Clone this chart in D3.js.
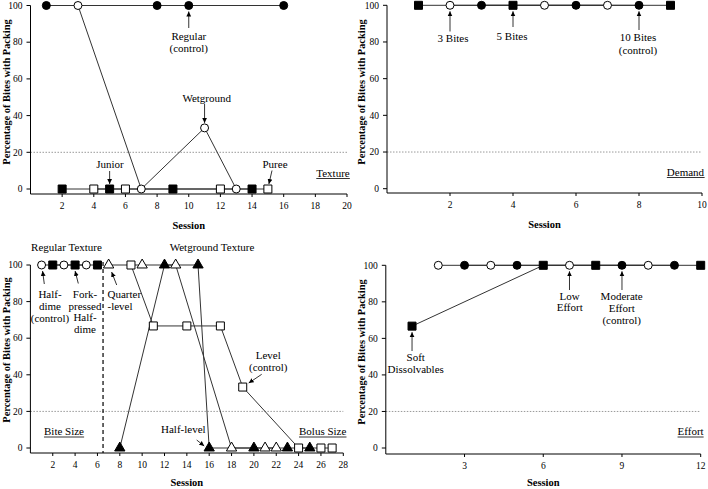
<!DOCTYPE html>
<html><head><meta charset="utf-8">
<script src="https://cdn.jsdelivr.net/npm/d3@7"></script>
<style>
body{margin:0;background:#fff}
text{font-family:"Liberation Serif","Times New Roman",serif;fill:#000}
</style>
</head><body>
<svg id="c" width="708" height="489"></svg>
<script>
// ---------- DATA ----------
// Panel A: Texture
const texRegularSessions = [1, 8, 10, 16];
const texRegularValues   = [100, 100, 100, 100];
const texWetSessions     = [3, 7, 11, 13];
const texWetValues       = [100, 0, 33.3, 0];
const texJuniorSessions  = [2, 5, 9, 14];
const texJuniorValues    = [0, 0, 0, 0];
const texPureeSessions   = [4, 6, 12, 15];
const texPureeValues     = [0, 0, 0, 0];
const texXTicks = [2, 4, 6, 8, 10, 12, 14, 16, 18, 20];

// Panel B: Demand
const dem5Sessions  = [1, 4, 9];
const dem5Values    = [100, 100, 100];
const dem3Sessions  = [2, 5, 7];
const dem3Values    = [100, 100, 100];
const dem10Sessions = [3, 6, 8];
const dem10Values   = [100, 100, 100];
const demXTicks = [2, 4, 6, 8, 10];

// Panel C: Bite size / Bolus size
const bsHalfDimeSessions = [1, 3, 5];
const bsHalfDimeValues   = [100, 100, 100];
const bsForkSessions     = [2, 4, 6];
const bsForkValues       = [100, 100, 100];
const bsQuarterSessions  = [7, 10, 13, 18, 21, 22];
const bsQuarterValues    = [100, 100, 100, 0, 0, 0];
const bsHalfLevelSessions = [8, 12, 15, 16, 20, 23, 25];
const bsHalfLevelValues   = [0, 100, 100, 0, 0, 0, 0];
const bsLevelSessions    = [9, 11, 14, 17, 19, 24, 26, 27];
const bsLevelValues      = [100, 66.7, 66.7, 66.7, 33.3, 0, 0, 0];
const bsXTicks = [2, 4, 6, 8, 10, 12, 14, 16, 18, 20, 22, 24, 26, 28];
const bsPhaseChange = 6.5;

// Panel D: Effort
const effSoftSessions = [1, 6, 8, 12];
const effSoftValues   = [66.7, 100, 100, 100];
const effLowSessions  = [2, 4, 7, 10];
const effLowValues    = [100, 100, 100, 100];
const effModSessions  = [3, 5, 9, 11];
const effModValues    = [100, 100, 100, 100];
const effXTicks = [3, 6, 9, 12];

const yTicks = [0, 20, 40, 60, 80, 100];
const criterion = 20;

// ---------- DRAW ----------
const svg = d3.select("#c");
svg.append("defs").append("marker")
  .attr("id", "ah").attr("markerUnits", "userSpaceOnUse")
  .attr("markerWidth", 6).attr("markerHeight", 6)
  .attr("refX", 5).attr("refY", 3).attr("orient", "auto")
  .append("path").attr("d", "M0,0.6 L5,3 L0,5.4 Z").attr("fill", "#000");

const sym = {
  circle: d3.symbol().type(d3.symbolCircle).size(50)(),
  square: d3.symbol().type(d3.symbolSquare).size(64)(),
  triangle: d3.symbol().type(d3.symbolTriangle).size(46)()
};

function panel(cfg) {
  const x = d3.scaleLinear().domain(cfg.xDomain).range(cfg.xRange);
  const y = d3.scaleLinear().domain([0, 100]).range(cfg.yRange);
  const g = svg.append("g");
  const x0 = cfg.xRange[0], x1 = cfg.xRange[1];

  // criterion dotted line
  g.append("line").attr("x1", x0).attr("x2", x1)
    .attr("y1", y(criterion)).attr("y2", y(criterion))
    .attr("stroke", "#999").attr("stroke-width", 1).attr("stroke-dasharray", "1.5,1.5");

  // y axis
  g.append("line").attr("x1", x0).attr("x2", x0).attr("y1", y(100)).attr("y2", cfg.axisY)
    .attr("stroke", "#000");
  yTicks.forEach(t => {
    g.append("line").attr("x1", x0 - 4).attr("x2", x0).attr("y1", y(t)).attr("y2", y(t)).attr("stroke", "#000");
    g.append("text").attr("x", x0 - 8).attr("y", y(t) + 3.2).attr("text-anchor", "end")
      .attr("font-size", 9.5).text(t);
  });
  // x axis
  g.append("line").attr("x1", x0).attr("x2", x1).attr("y1", cfg.axisY).attr("y2", cfg.axisY)
    .attr("stroke", "#000");
  cfg.xTicks.forEach(t => {
    g.append("line").attr("x1", x(t)).attr("x2", x(t)).attr("y1", cfg.axisY).attr("y2", cfg.axisY + 3).attr("stroke", "#000");
    g.append("text").attr("x", x(t)).attr("y", cfg.axisY + 15).attr("text-anchor", "middle")
      .attr("font-size", 9.5).text(t);
  });
  // titles
  g.append("text").attr("x", (x0 + x1) / 2).attr("y", cfg.sessY).attr("text-anchor", "middle")
    .attr("font-size", 10.5).attr("font-weight", "bold").text("Session");
  g.append("text").attr("transform", `translate(${cfg.yLabelX},${cfg.yLabelY}) rotate(-90)`)
    .attr("text-anchor", "middle").attr("font-size", 10.4).attr("font-weight", "bold")
    .text("Percentage of Bites with Packing");

  if (cfg.phase !== undefined) {
    g.append("line").attr("x1", x(cfg.phase)).attr("x2", x(cfg.phase))
      .attr("y1", y(100) - 3).attr("y2", cfg.axisY)
      .attr("stroke", "#000").attr("stroke-width", 1.2).attr("stroke-dasharray", "4,3");
  }

  // series lines
  const line = d3.line().x(d => x(d[0])).y(d => y(d[1]));
  cfg.series.forEach(s => {
    const pts = s.sessions.map((v, i) => [v, s.values[i]]);
    g.append("path").attr("d", line(pts)).attr("fill", "none").attr("stroke", "#333").attr("stroke-width", 1);
  });
  // markers
  cfg.series.forEach(s => {
    s.sessions.forEach((v, i) => {
      g.append("path").attr("d", sym[s.shape])
        .attr("transform", `translate(${x(v)},${y(s.values[i])})`)
        .attr("fill", s.filled ? "#000" : "#fff").attr("stroke", "#000").attr("stroke-width", 1);
    });
  });

  // annotations
  (cfg.notes || []).forEach(n => {
    const t = g.append("text").attr("text-anchor", n.anchor || "middle").attr("font-size", 11);
    n.lines.forEach((l, i) => {
      t.append("tspan").attr("x", n.tx).attr("y", n.ty + i * (n.lh || 12)).text(l);
    });
    if (n.underline) {
      const bb = t.node().getBBox();
      g.append("line").attr("x1", bb.x).attr("x2", bb.x + bb.width)
        .attr("y1", n.ty + 2).attr("y2", n.ty + 2).attr("stroke", "#000").attr("stroke-width", 0.8);
    }
    if (n.arrow) {
      const a = n.arrow(x, y);
      g.append("line").attr("x1", a[0]).attr("y1", a[1]).attr("x2", a[2]).attr("y2", a[3])
        .attr("stroke", "#000").attr("stroke-width", 0.8).attr("marker-end", "url(#ah)");
    }
  });
}

panel({
  xDomain: [0, 20], xRange: [30.5, 347], yRange: [189, 5.5], axisY: 194, sessY: 229,
  xTicks: texXTicks, yLabelX: 10, yLabelY: 92,
  series: [
    {sessions: texRegularSessions, values: texRegularValues, shape: "circle", filled: true},
    {sessions: texJuniorSessions, values: texJuniorValues, shape: "square", filled: true},
    {sessions: texPureeSessions, values: texPureeValues, shape: "square", filled: false},
    {sessions: texWetSessions, values: texWetValues, shape: "circle", filled: false}
  ],
  notes: [
    {lines: ["Regular", "(control)"], tx: 188.8, ty: 39.5, arrow: (x, y) => [x(10), 28, x(10), y(100) + 6]},
    {lines: ["Wetground"], tx: 206.7, ty: 101.5, arrow: (x, y) => [x(11), 104, x(11), y(33.3) - 5]},
    {lines: ["Junior"], tx: 110, ty: 168, arrow: (x, y) => [x(5), 171, x(5), y(0) - 5]},
    {lines: ["Puree"], tx: 275, ty: 168, arrow: (x, y) => [272, 170.5, x(15) + 1, y(0) - 5]},
    {lines: ["Texture"], tx: 333, ty: 176.5, underline: true}
  ]
});

panel({
  xDomain: [0, 10], xRange: [387, 702], yRange: [188.7, 5.3], axisY: 193, sessY: 228,
  xTicks: demXTicks, yLabelX: 365, yLabelY: 92,
  series: [
    {sessions: dem5Sessions, values: dem5Values, shape: "square", filled: true},
    {sessions: dem3Sessions, values: dem3Values, shape: "circle", filled: false},
    {sessions: dem10Sessions, values: dem10Values, shape: "circle", filled: true}
  ],
  notes: [
    {lines: ["3 Bites"], tx: 453, ty: 41.5, arrow: (x, y) => [x(2), 31.5, x(2), y(100) + 6]},
    {lines: ["5 Bites"], tx: 512, ty: 39.5, arrow: (x, y) => [x(4), 27, x(4), y(100) + 6]},
    {lines: ["10 Bites", "(control)"], tx: 638, ty: 41, lh: 12.5, arrow: (x, y) => [x(8), 30, x(8), y(100) + 6]},
    {lines: ["Demand"], tx: 685.5, ty: 175.5, underline: true}
  ]
});

panel({
  xDomain: [0, 28], xRange: [30.4, 343.3], yRange: [448, 265], axisY: 453, sessY: 486,
  xTicks: bsXTicks, yLabelX: 10, yLabelY: 350, phase: bsPhaseChange,
  series: [
    {sessions: bsHalfDimeSessions, values: bsHalfDimeValues, shape: "circle", filled: false},
    {sessions: bsForkSessions, values: bsForkValues, shape: "square", filled: true},
    {sessions: bsLevelSessions, values: bsLevelValues, shape: "square", filled: false},
    {sessions: bsQuarterSessions, values: bsQuarterValues, shape: "triangle", filled: false},
    {sessions: bsHalfLevelSessions, values: bsHalfLevelValues, shape: "triangle", filled: true}
  ],
  notes: [
    {lines: ["Regular Texture"], tx: 66.5, ty: 250.5},
    {lines: ["Wetground Texture"], tx: 212, ty: 250.5},
    {lines: ["Half-", "dime", "(control)"], tx: 50, ty: 297.5, arrow: (x, y) => [44.3, 284, x(1) + 1, y(100) + 6]},
    {lines: ["Fork-", "pressed", "Half-", "dime"], tx: 85, ty: 297.8, lh: 11.7, arrow: (x, y) => [78.3, 283.5, x(4), y(100) + 6]},
    {lines: ["Quarter", "-level"], tx: 107.5, ty: 298, anchor: "start", arrow: (x, y) => [116.7, 285, x(7) + 3, y(100) + 7]},
    {lines: ["Level", "(control)"], tx: 268.3, ty: 358.5, lh: 12.5, arrow: (x, y) => [261.7, 374.3, x(19) + 6, y(33.3) - 4]},
    {lines: ["Half-level"], tx: 183.3, ty: 433, arrow: (x, y) => [196.7, 440, x(16) - 5, y(0) - 2]},
    {lines: ["Bite Size"], tx: 64, ty: 435, underline: true},
    {lines: ["Bolus Size"], tx: 322.7, ty: 435, underline: true}
  ]
});

panel({
  xDomain: [0, 12], xRange: [385.8, 700.7], yRange: [448, 265.3], axisY: 454, sessY: 486,
  xTicks: effXTicks, yLabelX: 365, yLabelY: 352,
  series: [
    {sessions: effSoftSessions, values: effSoftValues, shape: "square", filled: true},
    {sessions: effLowSessions, values: effLowValues, shape: "circle", filled: false},
    {sessions: effModSessions, values: effModValues, shape: "circle", filled: true}
  ],
  notes: [
    {lines: ["Soft", "Dissolvables"], tx: 415.7, ty: 361, arrow: (x, y) => [x(1), 351, x(1), y(66.7) + 6]},
    {lines: ["Low", "Effort"], tx: 569.7, ty: 299.5, lh: 11.7, arrow: (x, y) => [x(7), 290, x(7), y(100) + 6]},
    {lines: ["Moderate", "Effort", "(control)"], tx: 621.7, ty: 299.5, lh: 12, arrow: (x, y) => [x(9), 290, x(9), y(100) + 6]},
    {lines: ["Effort"], tx: 690.6, ty: 435, underline: true}
  ]
});
</script>
</body></html>
